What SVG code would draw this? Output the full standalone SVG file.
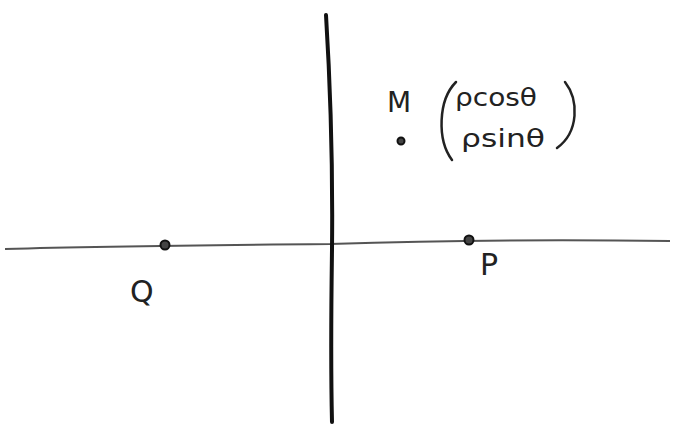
<svg xmlns="http://www.w3.org/2000/svg" width="676" height="427" viewBox="0 0 676 427">
<style>
.lbl{font-family:"DejaVu Sans","Liberation Sans",sans-serif;fill:#222}
.pt{fill:#444;stroke:#111;stroke-width:2}
.br{fill:none;stroke:#222;stroke-width:2.5;stroke-linecap:round}
</style>
<rect width="676" height="427" fill="#fff"/>
<g id="axes">
<path d="M5,249 C100,246 200,245 330,244 C420,241 520,239 670,241" fill="none" stroke="#555" stroke-width="2"/>
<path d="M326,15 C330,80 333,160 332,250 C331,320 331,380 332,422" fill="none" stroke="#111" stroke-width="4" stroke-linecap="round"/>
</g>
<g id="Q">
<circle class="pt" cx="165" cy="245" r="4.5"/>
<text class="lbl" x="130" y="302" font-size="30">Q</text>
</g>
<g id="P">
<circle class="pt" cx="469" cy="240" r="4.5"/>
<text class="lbl" x="480" y="275" font-size="30">P</text>
</g>
<g id="M">
<circle class="pt" cx="401" cy="141" r="3.5"/>
<text class="lbl" x="387" y="112" font-size="28">M</text>
<path class="br" d="M456,82 C438,100 437,140 452,160"/>
<text class="lbl" x="455" y="106" font-size="24" textLength="82" lengthAdjust="spacingAndGlyphs">ρcosθ</text>
<text class="lbl" x="461" y="147" font-size="24" textLength="84" lengthAdjust="spacingAndGlyphs">ρsinθ</text>
<path class="br" d="M565,82 C579,100 579,132 557,148"/>
</g>
</svg>
